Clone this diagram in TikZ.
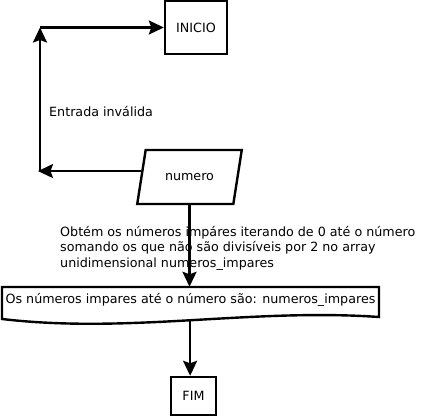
\documentclass[tikz,border=0pt]{standalone}
\usepackage{fontspec}
\setmainfont{DejaVu Sans}
\usetikzlibrary{arrows.meta,shapes.geometric}
\begin{document}
\begin{tikzpicture}[x=1pt,y=-1pt,
  txt/.style={font=\fontsize{12.7}{15.5}\selectfont},
  box/.style={draw, line width=2.4pt, txt},
  para/.style={draw, line width=2.4pt, txt, trapezium, trapezium left angle=69,
    trapezium right angle=111, trapezium stretches=true,
    minimum width=105pt, minimum height=54pt},
  line/.style={line width=2.4pt},
  arr/.style={line width=2.4pt, -{Stealth[length=15pt,width=14pt,inset=2.5pt]}}]
\useasboundingbox (0,0) rectangle (423,417);
\node[box, minimum width=62pt, minimum height=53pt] (inicio) at (196,27.5) {INICIO};
\node[para] (numero) at (189.5,177) {numero};
\node[txt, inner sep=0, minimum width=377pt, minimum height=26pt] (doc) at (190.5,300)
  {Os números impares até o número são: numeros\_impares};
\node[box, minimum width=45pt, minimum height=38pt] (fim) at (193.5,396) {FIM};
\node[txt, anchor=west, inner sep=0] (inv) at (49,112) {Entrada inválida};
\node[txt, anchor=north west, align=left, inner sep=0] (desc) at (60,226)
  {Obtém os números impáres iterando de 0 até o número\\
   somando os que não são divisíveis por 2 no array\\
   unidimensional numeros\_impares};
\draw[line] (2,287) -- (379,287) -- (379,317)
  .. controls (250,308) and (130,334) .. (2,319) coordinate[pos=0.5] (docb) -- cycle;
\coordinate (c1) at (40,0 |- numero.173);
\coordinate (c2) at (40,0 |- inicio.west);
\draw[arr, shorten >=-2pt] (numero.173) -- (c1);
\draw[arr] (c1) -- (c2);
\draw[arr] (c2) -- (inicio.west);
\draw[arr] (numero.south) -- (numero.south |- doc.north);
\draw[arr] (docb) -- (docb |- fim.north);
\end{tikzpicture}
\end{document}
